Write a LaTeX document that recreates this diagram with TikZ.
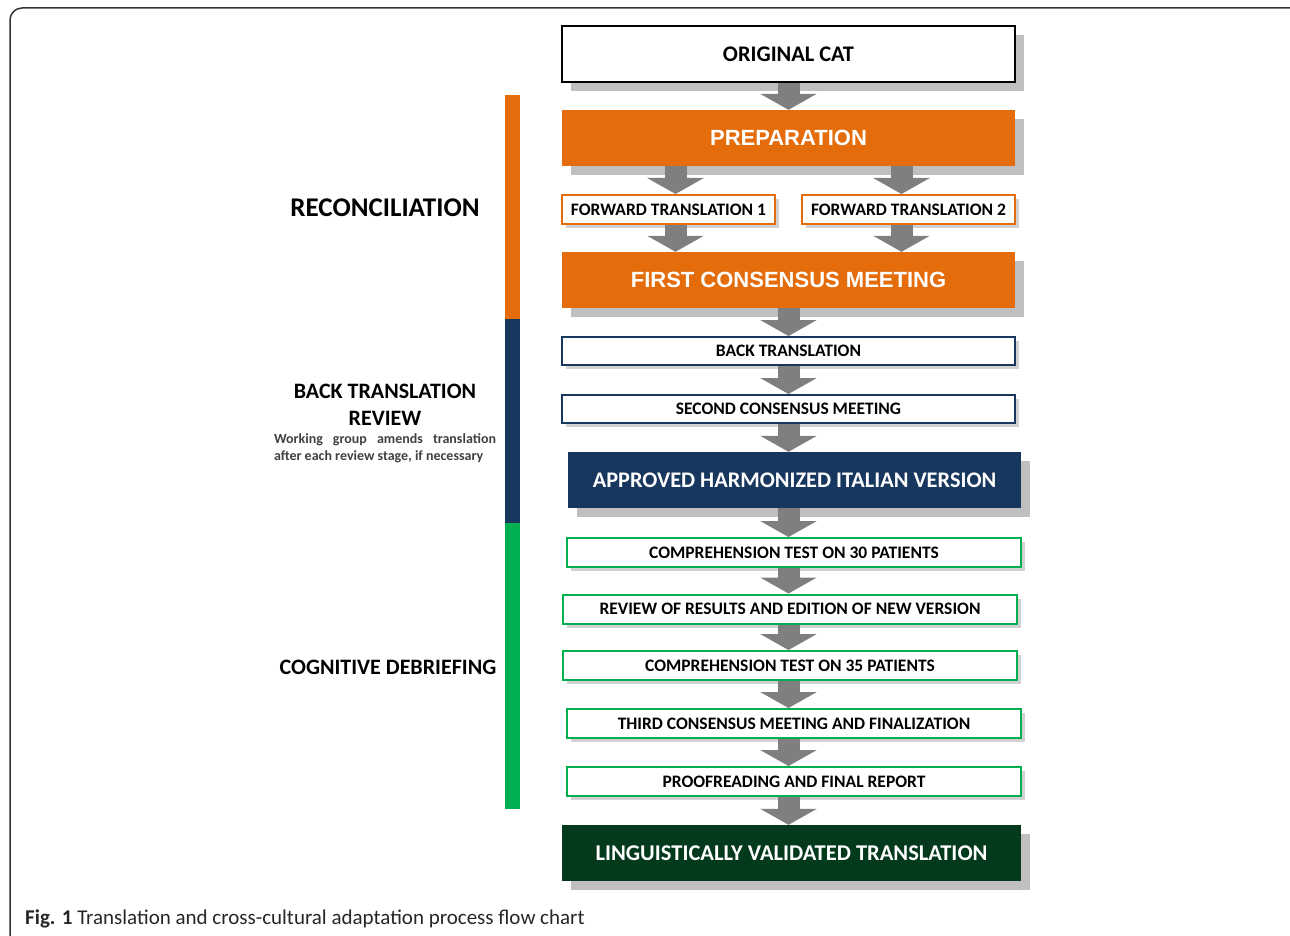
\documentclass[tikz,border=0pt]{standalone}
\usepackage{fontspec}
\setmainfont{Carlito}
\newfontfamily\arialfont{Liberation Sans}
\usetikzlibrary{arrows.meta,shadows,positioning}

\definecolor{prepOrange}{HTML}{E46C0A}
\definecolor{reviewNavy}{HTML}{17375E}
\definecolor{debriefGreen}{HTML}{00B050}
\definecolor{finalGreen}{HTML}{033A1C}
\definecolor{shadowGray}{HTML}{BFBFBF}
\definecolor{arrowGray}{HTML}{7F7F7F}

\tikzset{
  bigbox/.style={minimum width=453pt, minimum height=56pt, inner sep=0pt,
    font=\bfseries\fontsize{22.3}{26}\selectfont,
    drop shadow={shadow xshift=9pt, shadow yshift=-9pt, fill=shadowGray, opacity=1}},
  thinbox/.style={draw=#1, line width=2pt, fill=white, minimum width=453pt,
    minimum height=29pt, inner sep=0pt, font=\bfseries\fontsize{17.5}{20}\selectfont,
    drop shadow={shadow xshift=4pt, shadow yshift=-4pt, fill=shadowGray!70, opacity=1}},
  flow/.style={draw=arrowGray, line width=22pt, -{Triangle[width=56pt,length=16pt]}},
  sidelabel/.style={font=\bfseries\fontsize{22}{27}\selectfont, align=center},
}

\begin{document}
\begin{tikzpicture}[x=1pt,y=-1pt]
    \useasboundingbox (0,0) rectangle (1290,936);
    \clip (0,0) rectangle (1290,936);
    \draw[line width=1.5pt, black!80, rounded corners=12pt] (10,8) rectangle (1320,966);

    % phase bar
    \fill[prepOrange] (505,95) rectangle (520,319);
    \fill[reviewNavy] (505,319) rectangle (520,523);
    \fill[debriefGreen] (505,523) rectangle (520,809);

    % phase labels
    \node[sidelabel, font=\bfseries\fontsize{27}{32}\selectfont] (recon) at (385,208) {RECONCILIATION};
    \node[sidelabel] (btr) at (385,404.5) {BACK TRANSLATION\\REVIEW};
    \node[text width=222pt, align=justify, inner sep=0pt, text=black!75,
      font=\bfseries\fontsize{14}{17.5}\selectfont] (note) at (385,448.5)
      {Working group amends translation\linebreak after each review stage, if necessary};
    \node[sidelabel] (cog) at (388,667) {COGNITIVE DEBRIEFING};

    % steps
    \node[bigbox, draw=black, line width=1.2pt, fill=white] (orig) at (788.5,54) {ORIGINAL CAT};
    \node[bigbox, fill=prepOrange, text=white, font=\arialfont\bfseries\fontsize{22}{26}\selectfont] (prep) at (788.5,138) {PREPARATION};
    \node[thinbox=prepOrange, minimum width=213pt] (ft1) at (668.5,209.5) {FORWARD TRANSLATION 1};
    \node[thinbox=prepOrange, minimum width=213pt] (ft2) at (908.5,209.5) {FORWARD TRANSLATION 2};
    \node[bigbox, fill=prepOrange, text=white, font=\arialfont\bfseries\fontsize{22}{26}\selectfont] (fcm) at (788.5,280) {FIRST CONSENSUS MEETING};
    \node[thinbox=reviewNavy, minimum height=28pt] (back) at (788.5,351) {BACK TRANSLATION};
    \node[thinbox=reviewNavy, minimum height=28pt] (scm) at (788.5,409) {SECOND CONSENSUS MEETING};
    \node[bigbox, fill=reviewNavy, text=white] (appr) at (794.5,480) {APPROVED HARMONIZED ITALIAN VERSION};
    \node[thinbox=debriefGreen, minimum width=454pt] (ct30) at (794,552.5) {COMPREHENSION TEST ON 30 PATIENTS};
    \node[thinbox=debriefGreen, minimum width=454pt] (rev) at (790,609) {REVIEW OF RESULTS AND EDITION OF NEW VERSION};
    \node[thinbox=debriefGreen, minimum width=454pt] (ct35) at (790,665.5) {COMPREHENSION TEST ON 35 PATIENTS};
    \node[thinbox=debriefGreen, minimum width=454pt] (third) at (794,723.5) {THIRD CONSENSUS MEETING AND FINALIZATION};
    \node[thinbox=debriefGreen, minimum width=454pt] (proof) at (794,781.5) {PROOFREADING AND FINAL REPORT};
    \node[bigbox, fill=finalGreen, text=white, minimum width=459pt, font=\bfseries\fontsize{22.5}{26}\selectfont] (final) at (791.5,853) {LINGUISTICALLY VALIDATED TRANSLATION};

    % arrows
    \draw[flow] (orig.south) -- (prep.north);
    \draw[flow] ([xshift=7pt]ft1.north |- prep.south) -- ([xshift=7pt]ft1.north);
    \draw[flow] ([xshift=-7pt]ft2.north |- prep.south) -- ([xshift=-7pt]ft2.north);
    \draw[flow] ([xshift=7pt]ft1.south) -- ([xshift=7pt]ft1.south |- fcm.north);
    \draw[flow] ([xshift=-7pt]ft2.south) -- ([xshift=-7pt]ft2.south |- fcm.north);
    \draw[flow] (fcm.south) -- (back.north);
    \draw[flow] (back.south) -- (scm.north);
    \draw[flow] (scm.south) -- (appr.north -| scm.south);
    \draw[flow] (appr.south -| orig.south) -- (ct30.north -| orig.south);
    \draw[flow] (ct30.south -| orig.south) -- (rev.north -| orig.south);
    \draw[flow] (rev.south -| orig.south) -- (ct35.north -| orig.south);
    \draw[flow] (ct35.south -| orig.south) -- (third.north -| orig.south);
    \draw[flow] (third.south -| orig.south) -- (proof.north -| orig.south);
    \draw[flow] (proof.south -| orig.south) -- (final.north -| orig.south);

    % caption
    \node[anchor=west, inner sep=0pt, text=black!85, font=\fontsize{21}{24}\selectfont] (cap) at (25,918.5)
      {\textbf{Fig. 1} Translation and cross-cultural adaptation process flow chart};
\end{tikzpicture}
\end{document}
